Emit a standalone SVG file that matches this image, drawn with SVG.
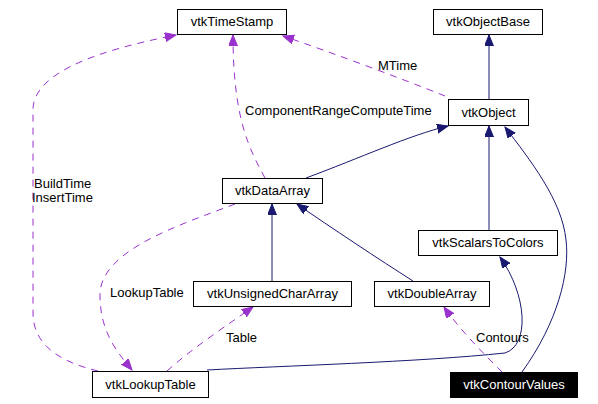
<svg xmlns="http://www.w3.org/2000/svg" width="598" height="404" viewBox="0 0 598 404">
<style>
.box{fill:#ffffff;stroke:#000000;stroke-width:1}
.dark{fill:#000000;stroke:#000000;stroke-width:1}
.t{font-family:"Liberation Sans",Arial,sans-serif;font-size:13px;fill:#000000;text-anchor:middle}
.tw{font-family:"Liberation Sans",Arial,sans-serif;font-size:13px;fill:#ffffff;text-anchor:middle}
.lbl{font-family:"Liberation Sans",Arial,sans-serif;font-size:13px;fill:#000000}
.inh{fill:none;stroke:#191970;stroke-width:1}
.use{fill:none;stroke:#9a32cd;stroke-width:1;stroke-dasharray:7,6}
</style>
<defs>
<marker id="an" markerUnits="userSpaceOnUse" markerWidth="12" markerHeight="10" refX="11" refY="4.5" orient="auto" viewBox="0 0 12 10">
<path d="M0,0 L11,4.5 L0,9 z" fill="#191970" stroke="#191970"/>
</marker>
<marker id="ap" markerUnits="userSpaceOnUse" markerWidth="12" markerHeight="10" refX="11" refY="4.5" orient="auto" viewBox="0 0 12 10">
<path d="M0,0 L11,4.5 L0,9 z" fill="#9a32cd" stroke="#9a32cd"/>
</marker>
</defs>
<g id="connectors">
<path class="inh" d="M489,99 L489,35" marker-end="url(#an)"/>
<path class="use" d="M445,96 C400,78 330,52 283,36" marker-end="url(#ap)"/>
<path class="use" d="M265,178 C250,150 233,120 233,35" marker-end="url(#ap)"/>
<path class="inh" d="M306,178 C360,158 410,135 448,126" marker-end="url(#an)"/>
<path class="inh" d="M489,231 L489,126" marker-end="url(#an)"/>
<path class="inh" d="M522,372 C558,322 570,272 566,240 C562,200 530,160 505,127" marker-end="url(#an)"/>
<path class="inh" d="M272,281 L272,204" marker-end="url(#an)"/>
<path class="inh" d="M413,281 C380,260 330,227 297,204" marker-end="url(#an)"/>
<path class="inh" d="M207,370 C280,366 420,362 505,353 C530,345 527,295 500,257" marker-end="url(#an)"/>
<path class="use" d="M98,371 C60,362 33,345 33,313 L33,110 C33,72 100,50 176,35" marker-end="url(#ap)"/>
<path class="use" d="M235,204 C180,225 100,250 100,295 C100,330 115,350 132,370" marker-end="url(#ap)"/>
<path class="use" d="M167,371 C190,350 230,323 253,307" marker-end="url(#ap)"/>
<path class="use" d="M502,372 C485,355 460,330 444,307" marker-end="url(#ap)"/>
<text class="lbl" x="378" y="70">MTime</text>
<text class="lbl" x="245" y="115">ComponentRangeComputeTime</text>
<text class="lbl" x="34" y="188">BuildTime</text>
<text class="lbl" x="32" y="202">InsertTime</text>
<text class="lbl" x="110" y="297">LookupTable</text>
<text class="lbl" x="226" y="342">Table</text>
<text class="lbl" x="476" y="342">Contours</text>
</g>
<g id="vtkTimeStamp"><rect class="box" x="177.5" y="9.5" width="109" height="25"/><text class="t" x="232" y="26">vtkTimeStamp</text></g>
<g id="vtkObjectBase"><rect class="box" x="433.5" y="9.5" width="109" height="25"/><text class="t" x="488" y="26">vtkObjectBase</text></g>
<g id="vtkObject"><rect class="box" x="448.5" y="99.5" width="80" height="26"/><text class="t" x="488.5" y="117">vtkObject</text></g>
<g id="vtkDataArray"><rect class="box" x="222.5" y="178.5" width="100" height="25"/><text class="t" x="272.5" y="195">vtkDataArray</text></g>
<g id="vtkScalarsToColors"><rect class="box" x="418.5" y="230.5" width="139" height="25"/><text class="t" x="488" y="247">vtkScalarsToColors</text></g>
<g id="vtkUnsignedCharArray"><rect class="box" x="193.5" y="281.5" width="158" height="25"/><text class="t" x="272.5" y="298">vtkUnsignedCharArray</text></g>
<g id="vtkDoubleArray"><rect class="box" x="374.5" y="281.5" width="115" height="25"/><text class="t" x="432" y="298">vtkDoubleArray</text></g>
<g id="vtkLookupTable"><rect class="box" x="92.5" y="371.5" width="116" height="26"/><text class="t" x="150.5" y="389">vtkLookupTable</text></g>
<g id="vtkContourValues"><rect class="dark" x="450.5" y="372.5" width="127" height="25"/><text class="tw" x="514" y="389">vtkContourValues</text></g>
</svg>
